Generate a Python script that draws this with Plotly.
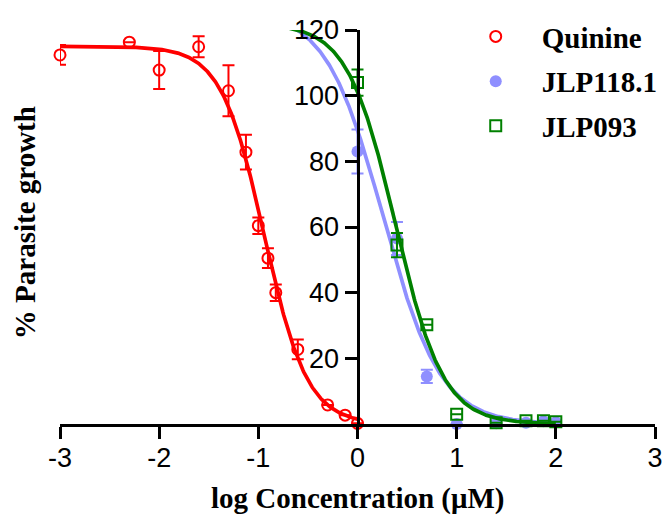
import numpy as np
import plotly.graph_objects as go

# ---------------- data ----------------
quinine_x = [-3.0, -2.301, -2.0, -1.602, -1.301, -1.125, -1.0, -0.903, -0.824, -0.602, -0.301, -0.125, 0.0]
quinine_y = [112.4, 116.3, 107.8, 114.9, 101.5, 82.8, 60.4, 50.5, 40.0, 22.7, 5.8, 2.7, 0.2]
quinine_err = [3.0, None, 5.8, 3.2, 7.8, 5.3, 2.5, 3.0, 2.5, 3.0, None, None, None]

jlp118_x = [0.0, 0.398, 0.699, 1.0, 1.398, 1.699, 1.875, 2.0]
jlp118_y = [83.0, 56.5, 14.5, 0.0, 0.2, 0.4, 0.8, 0.5]
jlp118_err = [6.7, 5.0, 2.0, None, None, None, None, None]

jlp093_x = [0.0, 0.398, 0.699, 1.0, 1.398, 1.699, 1.875, 2.0]
jlp093_y = [104.0, 54.5, 30.2, 3.0, 0.4, 1.0, 1.0, 0.7]
jlp093_err = [4.0, 3.7, None, None, None, None, None, None]

# four-parameter logistic fit parameters: [top, bottom, logIC50, hill]
quinine_fit = [115.0, 0.0, -0.94, 2.0]
jlp118_fit = [126.0, 0.0, 0.26, 1.5]
jlp093_fit = [122.0, 0.0, 0.382, 1.8]
quinine_fit_range = [-3.0, 0.0]
jlp_fit_range = [-0.7, 2.0]

series_names = ["Quinine", "JLP118.1", "JLP093"]
x_tick_vals = [-3, -2, -1, 0, 1, 2, 3]
x_tick_text = ["-3", "-2", "-1", "0", "1", "2", "3"]
y_tick_vals = [20, 40, 60, 80, 100, 120]
x_title = "log Concentration (\u03bcM)"
y_title = "% Parasite growth"

RED = "#ff0000"
BLUE = "#8f8fff"
GREEN = "#008000"


def logistic(x, p):
    top, bottom, c, h = p
    return bottom + (top - bottom) / (1.0 + 10 ** (h * (np.asarray(x) - c)))


fig = go.Figure()

specs = [
    (series_names[0], quinine_x, quinine_y, quinine_err, quinine_fit, quinine_fit_range, RED,
     dict(symbol="circle-open", size=11, color=RED, line=dict(width=2, color=RED))),
    (series_names[1], jlp118_x, jlp118_y, jlp118_err, jlp118_fit, jlp_fit_range, BLUE,
     dict(symbol="circle", size=12, color=BLUE, line=dict(width=0))),
    (series_names[2], jlp093_x, jlp093_y, jlp093_err, jlp093_fit, jlp_fit_range, GREEN,
     dict(symbol="square-open", size=11, color=GREEN, line=dict(width=2, color=GREEN))),
]

for i, (name, xs, ys, errs, fit, rng, col, mk) in enumerate(specs):
    cx = np.linspace(rng[0], rng[1], 400)
    fig.add_trace(go.Scatter(x=cx, y=logistic(cx, fit), mode="lines",
                             line=dict(color=col, width=3.7), showlegend=False,
                             hoverinfo="skip"))
    fig.add_trace(go.Scatter(x=xs, y=ys, mode="markers", name=name, marker=mk,
                             legendgroup=name, cliponaxis=False,
                             error_y=dict(type="data", array=errs, visible=True,
                                          color=col, thickness=2, width=6)))

fig.update_layout(
    width=667, height=515,
    margin=dict(l=60, r=12, t=30, b=91, autoexpand=False),
    paper_bgcolor="white", plot_bgcolor="white",
    showlegend=True,
    legend=dict(x=0.655, y=1.048, xanchor="left", yanchor="top",
                font=dict(family="Liberation Serif", size=29, color="black", weight="bold"),
                itemwidth=82, tracegroupgap=4, bgcolor="rgba(0,0,0,0)"),
    xaxis=dict(range=[-3, 3], showline=True, linewidth=3, linecolor="black",
               ticks="outside", ticklen=12, tickwidth=3, tickcolor="black",
               tickvals=x_tick_vals, ticktext=x_tick_text, ticklabelstandoff=-4,
               tickfont=dict(family="Liberation Sans", size=27, color="black"),
               showgrid=False, zeroline=False),
    yaxis=dict(range=[0, 120], anchor="free", position=0.5, showline=True,
               linewidth=3, linecolor="black", ticks="outside", ticklen=12,
               tickwidth=3, tickcolor="black", tickvals=y_tick_vals,
               tickfont=dict(family="Liberation Sans", size=27, color="black"),
               showgrid=False, zeroline=False),
    annotations=[
        dict(text=x_title, xref="paper", yref="paper", x=0.5, y=-0.188,
             xanchor="center", yanchor="middle", showarrow=False,
             font=dict(family="Liberation Serif", size=29, color="black", weight="bold")),
        dict(text=y_title, xref="paper", yref="paper", x=-0.059, y=0.512,
             xanchor="center", yanchor="middle", showarrow=False, textangle=-90,
             font=dict(family="Liberation Serif", size=29, color="black", weight="bold")),
    ],
)

fig.write_html("out.html")
